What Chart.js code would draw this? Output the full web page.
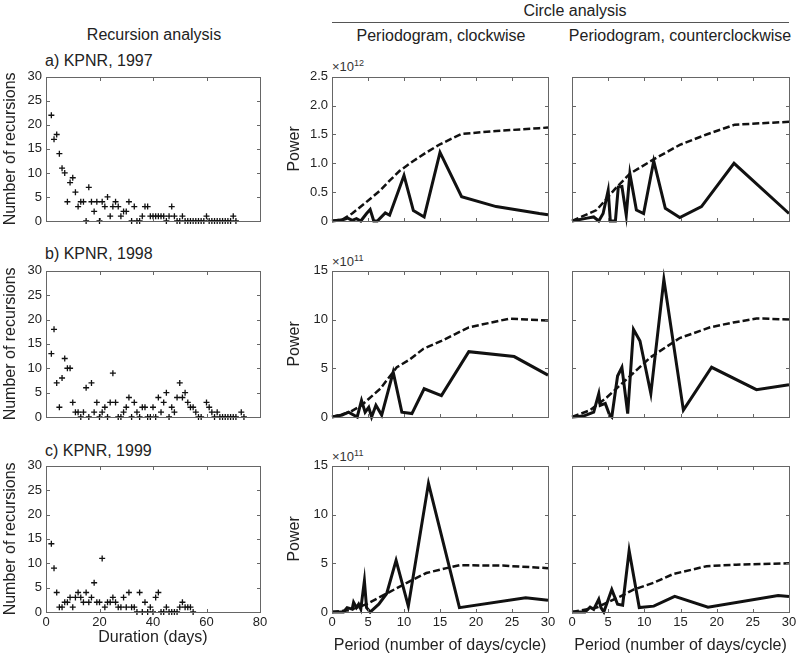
<!DOCTYPE html>
<html>
<head>
<meta charset="utf-8">
<script src="https://cdn.jsdelivr.net/npm/chart.js@4/dist/chart.umd.min.js"></script>
<style>
body { margin: 0; background: #fff; }
#fig { position: relative; width: 800px; height: 657px; overflow: hidden;
       font-family: "Liberation Sans", Arial, sans-serif; color: #222; }
.t { position: absolute; font-size: 16px; white-space: nowrap; transform: translate(-50%, -50%); }
.l { position: absolute; font-size: 16px; white-space: nowrap; transform: translateY(-50%); }
.e { position: absolute; font-size: 13px; white-space: nowrap; transform: translateY(-50%); color: #333; }
.e sup { font-size: 9px; }
#rule { position: absolute; left: 332px; top: 22px; width: 457px; height: 1px; background: #555; }
canvas { position: absolute; }
</style>
</head>
<body>
<div id="fig">
  <div class="t" style="left:154px; top:35px;">Recursion analysis</div>
  <div class="t" style="left:575px; top:11px;">Circle analysis</div>
  <div id="rule"></div>
  <div class="t" style="left:441px; top:36px;">Periodogram, clockwise</div>
  <div class="t" style="left:680px; top:36px;">Periodogram, counterclockwise</div>

  <div class="l" style="left:45px; top:61px;">a) KPNR, 1997</div>
  <div class="l" style="left:45px; top:254px;">b) KPNR, 1998</div>
  <div class="l" style="left:45px; top:451px;">c) KPNR, 1999</div>

  <div class="e" style="left:332px; top:66px;">×10<sup>12</sup></div>
  <div class="e" style="left:332px; top:261px;">×10<sup>11</sup></div>
  <div class="e" style="left:332px; top:456px;">×10<sup>11</sup></div>
</div>
<script>
// tick values
const recXTicks = [0, 20, 40, 60, 80];
const recYTicks = [0, 5, 10, 15, 20, 25, 30];
const perXTicks = [0, 5, 10, 15, 20, 25, 30];
const pow97Ticks = [0, 0.5, 1.0, 1.5, 2.0, 2.5];
const pow98Ticks = [0, 5, 10, 15];

// recursion analysis: duration (days) and number of recursions
const days1997 = [2,3,4,5,6,7,8,9,10,11,12,13,14,15,16,17,18,19,20,21,22,23,24,25,26,27,28,29,30,31,32,33,34,35,36,37,38,39,40,41,42,43,44,45,46,47,48,49,50,51,52,53,54,55,56,57,58,59,60,61,62,63,64,65,66,67,68,69,70,71];
const rec1997 = [22,17,18,14,11,10,4,8,9,6,3,4,4,0,7,4,2,4,0,4,3,5,1,3,4,3,1,2,2,4,0,3,0,0,1,3,3,1,1,1,1,1,1,0,1,3,1,0,0,1,0,0,0,0,0,0,0,0,1,0,0,0,0,0,0,0,0,0,1,0];

const days1998 = [2,3,4,5,6,7,8,9,10,11,12,13,14,15,16,17,18,19,20,21,22,23,24,25,26,27,28,29,30,31,32,33,34,35,36,37,38,39,40,41,42,43,44,45,46,47,48,49,50,51,52,53,54,55,56,57,58,60,61,62,63,64,65,66,67,68,69,70,71,73,74];
const rec1998 = [13,18,7,2,8,12,10,10,3,1,1,0,1,6,0,7,1,3,0,1,2,0,3,9,3,0,0,1,2,4,0,3,1,0,2,2,0,0,2,0,4,1,3,5,0,2,1,4,7,4,5,3,2,2,1,0,0,3,2,1,0,1,0,0,0,0,0,0,0,1,0];

const days1999 = [2,3,4,5,6,7,8,9,10,11,12,13,14,15,16,17,18,19,20,21,22,23,24,25,26,27,28,29,30,31,32,33,34,35,36,37,38,39,40,41,42,43,44,45,46,47,48,49,50,51,52,53,54,55];
const rec1999 = [14,9,4,1,1,2,2,3,1,3,4,3,2,4,2,3,6,2,2,11,1,2,2,3,2,1,1,3,1,4,1,1,0,4,0,2,0,1,0,3,4,0,0,1,0,0,0,0,1,2,1,1,1,0];

// periodograms: period (days/cycle), power, and the dashed reference curve
const perCw97 = [0,1.5,2.2,2.8,3.4,4.0,4.8,5.3,5.8,6.3,7.4,8.0,10.0,11.3,12.8,15.0,18.0,22.8,28.8,30];
const powCw97 = [0,0.02,0.05,0.01,0.04,0,0.13,0.2,0,0,0.14,0.1,0.79,0.18,0.07,1.19,0.42,0.25,0.13,0.11];
const refPerCw97 = [0,1.5,2.8,4.5,6.7,8.0,9.4,11.3,13,15,18,22.8,28.8,30];
const refCw97 = [0,0.03,0.13,0.3,0.53,0.7,0.87,1.04,1.18,1.33,1.51,1.56,1.61,1.62];

const perCcw97 = [0,2.1,3,3.7,4.3,5.0,5.3,6.0,6.4,6.9,7.5,8.0,8.9,9.9,11.3,12.9,14.9,17.9,22.4,30];
const powCcw97 = [0,0.05,0.07,0,0.13,0.53,0,0,0.59,0.6,0.1,0.82,0.19,0.13,1.04,0.22,0.06,0.25,1.0,0.13];
const refPerCcw97 = [0,3.4,6.2,8,11.3,14.9,18.6,22.5,30];
const refCcw97 = [0,0.19,0.59,0.82,1.07,1.32,1.5,1.67,1.72];

const perCw98 = [0,1.4,2.3,3.5,4.1,4.6,5.1,5.5,6.1,6.9,8.5,9.7,11.1,12.8,15.2,19,25.3,30];
const powCw98 = [0,0.2,0.5,0,1.7,0.5,1.0,0,1.2,0.2,4.6,0.5,0.35,2.9,2.2,6.7,6.2,4.3];
const refPerCw98 = [0,2.5,4.1,6.7,9,10.8,12.7,15.2,19,22.8,24.7,27,30];
const refCw98 = [0,0.5,1.2,2.9,5.1,5.9,7.0,7.8,9.2,9.8,10.1,10,9.9];

const perCcw98 = [0,1.6,3,3.7,3.9,4.6,5.2,5.5,6.3,6.9,7.7,8.5,9.4,10.9,12.7,15.4,19.3,25.5,30];
const powCcw98 = [0,0.1,0.5,2.4,1.2,1.4,0.2,0,4.2,5.1,0.35,9.0,7.8,2.4,14.1,0.7,5.1,2.8,3.3];
const refPerCcw98 = [0,2.5,4.8,7.6,10.8,14.9,19.1,22.3,25.5,26.4,30];
const refCcw98 = [0,0.7,2.0,3.9,6.1,8.1,9.2,9.7,10.1,10.1,10];

const perCw99 = [0,1.6,2.1,2.8,3,3.4,3.7,4,4.5,4.8,5.3,6.5,7.6,8.9,10.6,13.4,17.7,26.9,30];
const powCw99 = [0,0,0.45,0.3,1.0,0.45,0.8,0.3,3.2,0.45,0,0.8,1.9,5.3,0.6,13.2,0.45,1.46,1.2];
const refPerCw99 = [0,2.5,4.8,7.6,10.4,13.1,15.9,17.7,23.7,30];
const refCw99 = [0,0.2,0.8,1.9,3.0,4.0,4.5,4.8,4.76,4.5];

const perCcw99 = [0,1.8,2.5,3,3.7,4,4.4,5.5,6.3,7,7.9,9.3,11.3,14.2,18.8,28.5,30];
const powCcw99 = [0,0,0.5,0.27,1.3,0.45,0,2.3,0.8,0.7,6.3,0.45,0.6,1.6,0.5,1.7,1.6];
const refPerCcw99 = [0,3.4,6.7,8.5,11.3,14,18.6,22.7,30];
const refCcw99 = [0,0.45,1.6,2.3,3.0,3.9,4.7,4.86,5.0];

const FONT = "'Liberation Sans', Arial, sans-serif";
const TXT = '#222';

function pts(xs, ys) {
    return xs.map((x, i) => ({x: x, y: ys[i]}));
}

// box round the plot with inward ticks on all four sides, matlab style
const frameTicks = {
    id: 'frameTicks',
    afterDraw(chart, args, opts) {
        const {ctx, scales: {x, y}} = chart;
        const tl = 3.5;
        const L = Math.round(x.getPixelForValue(x.min)) + 0.5;
        const R = Math.round(x.getPixelForValue(x.max)) + 0.5;
        const T = Math.round(y.getPixelForValue(y.max)) + 0.5;
        const B = Math.round(y.getPixelForValue(y.min)) + 0.5;
        ctx.save();
        ctx.strokeStyle = '#666';
        ctx.lineWidth = 1;
        ctx.beginPath();
        opts.xTicks.forEach(v => {
            const px = Math.round(x.getPixelForValue(v)) + 0.5;
            ctx.moveTo(px, B); ctx.lineTo(px, B - tl);
            ctx.moveTo(px, T); ctx.lineTo(px, T + tl);
        });
        opts.yTicks.forEach(v => {
            const py = Math.round(y.getPixelForValue(v)) + 0.5;
            ctx.moveTo(L, py); ctx.lineTo(L + tl, py);
            ctx.moveTo(R, py); ctx.lineTo(R - tl, py);
        });
        ctx.stroke();
        ctx.strokeRect(L, T, R - L, B - T);
        ctx.restore();
    }
};

function panel(cfg) {
    const lw = cfg.lw, bh = cfg.bh, padTop = 10, padRight = 12;
    const cv = document.createElement('canvas');
    const w = cfg.plot[2] - cfg.plot[0] + lw + padRight;
    const h = cfg.plot[3] - cfg.plot[1] + padTop + bh;
    cv.width = w; cv.height = h;
    cv.style.left = (cfg.plot[0] - lw) + 'px';
    cv.style.top = (cfg.plot[1] - padTop) + 'px';
    document.getElementById('fig').appendChild(cv);

    new Chart(cv.getContext('2d'), {
        type: cfg.type,
        data: {datasets: cfg.datasets},
        options: {
            responsive: false,
            animation: false,
            events: [],
            layout: {padding: {top: padTop, right: padRight, left: 0, bottom: 0}},
            plugins: {
                legend: {display: false},
                tooltip: {enabled: false},
                frameTicks: {xTicks: cfg.xTicks, yTicks: cfg.yTicks}
            },
            scales: {
                x: {
                    type: 'linear',
                    min: cfg.xTicks[0],
                    max: cfg.xTicks[cfg.xTicks.length - 1],
                    afterBuildTicks: s => { s.ticks = cfg.xTicks.map(v => ({value: v})); },
                    afterFit: s => { s.height = bh; },
                    grid: {display: false, drawTicks: false},
                    border: {display: false},
                    ticks: {color: cfg.showX ? TXT : 'rgba(0,0,0,0)', padding: 3, maxRotation: 0,
                            autoSkip: false, font: {family: FONT, size: 13}},
                    title: {display: !!cfg.xTitle, text: cfg.xTitle, color: TXT,
                            font: {family: FONT, size: 16}, padding: {top: 0, bottom: 0}}
                },
                y: {
                    type: 'linear',
                    min: cfg.yTicks[0],
                    max: cfg.yTicks[cfg.yTicks.length - 1],
                    afterBuildTicks: s => { s.ticks = cfg.yTicks.map(v => ({value: v})); },
                    afterFit: s => { s.width = lw; },
                    grid: {display: false, drawTicks: false},
                    border: {display: false},
                    ticks: {color: cfg.showY ? TXT : 'rgba(0,0,0,0)', padding: 4, autoSkip: false,
                            font: {family: FONT, size: 13},
                            callback: cfg.yFmt || (v => v)},
                    title: {display: !!cfg.yTitle, text: cfg.yTitle, color: TXT,
                            font: {family: FONT, size: 16, lineHeight: 1.2}, padding: {top: 1, bottom: 0}}
                }
            }
        },
        plugins: [frameTicks]
    });
}

function crosses(xs, ys) {
    return [{
        data: pts(xs, ys),
        pointStyle: 'cross',
        pointRadius: 3,
        borderColor: '#111',
        backgroundColor: '#111',
        pointBorderWidth: 1.3,
        clip: false
    }];
}

function perLines(px, py, rx, ry) {
    return [{
        data: pts(px, py),
        borderColor: '#111',
        borderWidth: 3,
        pointRadius: 0,
        tension: 0,
        clip: false
    }, {
        data: pts(rx, ry),
        borderColor: '#111',
        borderWidth: 2.5,
        borderDash: [7, 3],
        pointRadius: 0,
        tension: 0,
        clip: false
    }];
}

const rows = [[75, 221], [269, 417], [464, 612]];
const colRec = [46, 260], colCw = [332, 548], colCcw = [572, 789];
const fmt97 = v => (v === 0 ? '0' : v.toFixed(1));

const recData = [[days1997, rec1997], [days1998, rec1998], [days1999, rec1999]];
const cwData = [
    [perCw97, powCw97, refPerCw97, refCw97],
    [perCw98, powCw98, refPerCw98, refCw98],
    [perCw99, powCw99, refPerCw99, refCw99]
];
const ccwData = [
    [perCcw97, powCcw97, refPerCcw97, refCcw97],
    [perCcw98, powCcw98, refPerCcw98, refCcw98],
    [perCcw99, powCcw99, refPerCcw99, refCcw99]
];

rows.forEach((r, i) => {
    const last = i === 2;
    panel({
        type: 'scatter',
        plot: [colRec[0], r[0], colRec[1], r[1]],
        lw: 46, bh: last ? 35 : 16,
        xTicks: recXTicks, yTicks: recYTicks,
        showX: last, showY: true,
        xTitle: last ? 'Duration (days)' : '',
        yTitle: 'Number of recursions',
        datasets: crosses(recData[i][0], recData[i][1])
    });
    const yT = i === 0 ? pow97Ticks : pow98Ticks;
    panel({
        type: 'line',
        plot: [colCw[0], r[0], colCw[1], r[1]],
        lw: 48, bh: last ? 43 : 16,
        xTicks: perXTicks, yTicks: yT,
        showX: last, showY: true,
        yFmt: i === 0 ? fmt97 : null,
        xTitle: last ? 'Period (number of days/cycle)' : '',
        yTitle: 'Power',
        datasets: perLines(...cwData[i])
    });
    panel({
        type: 'line',
        plot: [colCcw[0], r[0], colCcw[1], r[1]],
        lw: 10, bh: last ? 43 : 16,
        xTicks: perXTicks, yTicks: yT,
        showX: last, showY: false,
        xTitle: last ? 'Period (number of days/cycle)' : '',
        yTitle: '',
        datasets: perLines(...ccwData[i])
    });
});
</script>
</body>
</html>
